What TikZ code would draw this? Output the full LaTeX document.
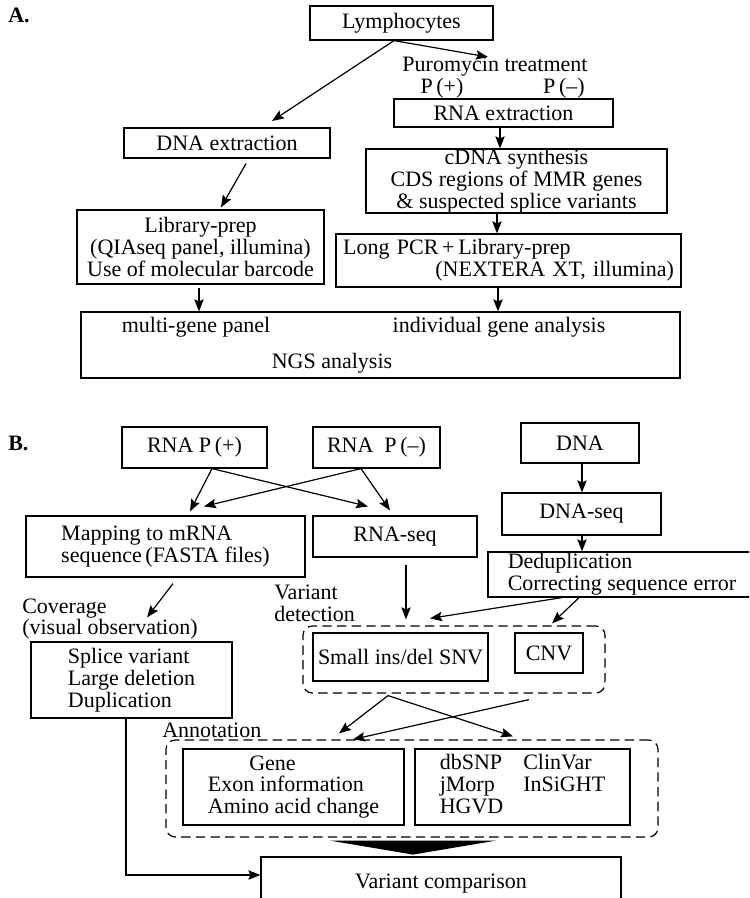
\documentclass[tikz,border=0pt]{standalone}
\usepackage{fontspec}
\setmainfont{Liberation Serif}
\usetikzlibrary{arrows.meta,calc}
\newcommand\bx[7]{\node[box,#6,minimum width={0.75pt*(#4-#2)}, minimum height={0.75pt*(#5-#3)}] (#1) at ({(#2+#4)/2},{(#3+#5)/2}) {#7};}
\begin{document}
\begin{tikzpicture}[x=0.75pt,y=-0.75pt,
  font=\fontsize{16.5pt}{16.3pt}\selectfont,
  box/.style={draw, line width=0.9pt, inner sep=0pt, align=center},
  dbox/.style={draw, line width=0.9pt, dash pattern=on 7pt off 4pt, rounded corners=7pt, inner sep=0pt, align=center},
  arr/.style={line width=0.9pt, -{Stealth[length=9pt,width=7pt,inset=1.5pt]}},
  lbl/.style={inner sep=0pt, align=left}]
\useasboundingbox (0,0) rectangle (749,898);
\clip (0,0) rectangle (749,898);

% ---------- A ----------
\node[lbl, anchor=west, font=\fontsize{16.5pt}{16pt}\selectfont\bfseries] (labA) at (8,15) {A.};
\bx{lym}{310}{6}{493}{40}{}{Lymphocytes}
\node[lbl] (puro) at (495,67) {Puromycin treatment};
\node[lbl] (pplus) at (442,88) {P\,(+)};
\node[lbl] (pminus) at (564,88) {P\,(–)};
\bx{rnaext}{394}{99}{613}{127}{}{RNA extraction}
\bx{dnaext}{124}{128}{330}{158}{}{DNA extraction}
\bx{cdna}{366}{149}{667}{213}{}{cDNA synthesis\\CDS regions of MMR genes\\\& suspected splice variants}
\bx{lib}{77}{210}{324}{284}{}{Library-prep\\(QIAseq panel, illumina)\\Use of molecular barcode}
\bx{lpcr}{336}{234}{681}{287}{text width=248pt, align=left}{Long PCR\,+\,Library-prep\\\hfill(NEXTERA XT, illumina)}
\bx{ngs}{81}{312}{680}{378}{}{}
\node[lbl] (mgp) at (196,327) {multi-gene panel};
\node[lbl] (iga) at (499,327) {individual gene analysis};
\node[lbl] (ngst) at (332,363) {NGS analysis};

\coordinate (a1) at (272,121);
\coordinate (a2) at (488,57);
\draw[arr] (394,0 |- lym.south) -- (a1);
\draw[arr] (394,0 |- lym.south) -- (a2);
\draw[arr] (500,0 |- rnaext.south) -- (500,0 |- cdna.north);
\draw[arr] ($(246,0 |- dnaext.south)+(0,5)$) -- ($(221,0 |- lib.north)+(0,-2)$);
\draw[arr] (497,0 |- cdna.south) -- (497,0 |- lpcr.north);
\draw[arr] ($(199,0 |- lib.south)+(0,3)$) -- (199,0 |- ngs.north);
\draw[arr] (498,0 |- lpcr.south) -- (498,0 |- ngs.north);

% ---------- B ----------
\node[lbl, anchor=west, font=\fontsize{16.5pt}{16pt}\selectfont\bfseries] (labB) at (8,443) {B.};
\bx{rnap}{122}{427}{267}{468}{}{RNA P\,(+)}
\bx{rnam}{313}{427}{440}{468}{}{RNA\enspace P\,(–)}
\bx{dna}{521}{423}{639}{463}{}{DNA}
\bx{map}{26}{516}{305}{577}{align=left}{Mapping to mRNA\\sequence\,(FASTA files)}
\bx{rnaseq}{313}{516}{477}{557}{}{RNA-seq}
\bx{dnaseq}{502}{493}{661}{535}{}{DNA-seq}
\bx{dedup}{488}{552}{756}{597}{align=left}{Deduplication\\Correcting sequence error}
\bx{splice}{31}{642}{232}{718}{align=left}{Splice variant\\Large deletion\\Duplication}
\node[dbox, minimum width={0.75pt*302}, minimum height={0.75pt*67}] (dash1) at (454,659.5) {};
\bx{small}{313}{633}{488}{681}{}{Small ins/del SNV}
\bx{cnv}{515}{633}{583}{673}{}{CNV}
\node[dbox, minimum width={0.75pt*492}, minimum height={0.75pt*97}] (dash2) at (412,788.5) {};
\bx{gene}{183}{749}{404}{825}{align=left}{\hspace*{31pt}Gene\\Exon information\\Amino acid change}
\bx{db}{415}{749}{630}{825}{}{\begin{tabular}{@{}l@{\hspace{15pt}}l@{}}dbSNP & ClinVar\\ jMorp & InSiGHT\\ HGVD & \end{tabular}}
\bx{varcomp}{261}{857}{621}{910}{}{Variant comparison}

\node[lbl, anchor=west] (cov) at (22,619) {Coverage\\(visual observation)};
\node[lbl, anchor=west] (vdet) at (274,603) {Variant\\detection};
\node[lbl, anchor=west] (annot) at (162,730) {Annotation};

\draw[arr] (212,0 |- rnap.south) -- ($(190,0 |- map.north)+(0,-4)$);
\draw[arr] (212,0 |- rnap.south) -- ($(368,0 |- rnaseq.north)+(0,-9)$);
\draw[arr] (361,0 |- rnam.south) -- ($(204,0 |- map.north)+(0,-9)$);
\draw[arr] (361,0 |- rnam.south) -- ($(390,0 |- rnaseq.north)+(0,-5)$);
\draw[arr] (582,0 |- dna.south) -- (582,0 |- dnaseq.north);
\draw[arr] (582,0 |- dnaseq.south) -- (582,0 |- dedup.north);
\draw[arr] ($(173,0 |- map.south)+(0,6)$) -- ($(147,0 |- splice.north)+(0,-24)$);
\draw[arr] ($(406,0 |- rnaseq.south)+(0,7)$) -- ($(406,0 |- dash1.north)+(0,-6)$);
\draw[arr] (562,0 |- dedup.south) -- ($(430,0 |- dash1.north)+(0,-7)$);
\draw[arr] (579,0 |- dedup.south) -- ($(552,0 |- dash1.north)+(0,-2)$);
\draw[arr] ($(388,0 |- dash1.south)+(0,2)$) -- ($(339,0 |- dash2.north)+(0,-6)$);
\draw[arr] ($(388,0 |- dash1.south)+(0,2)$) -- ($(513,0 |- dash2.north)+(0,-3)$);
\draw[arr] ($(529,0 |- dash1.south)+(0,6)$) -- (353,0 |- dash2.north);
\draw[arr] (126,0 |- splice.south) |- (varcomp.west |- 0,875);
\fill ($(dash2.south)+(-82,3)$) -- ($(dash2.south)+(84,3)$) -- ($(dash2.south)+(1,17)$) -- cycle;
\end{tikzpicture}
\end{document}
